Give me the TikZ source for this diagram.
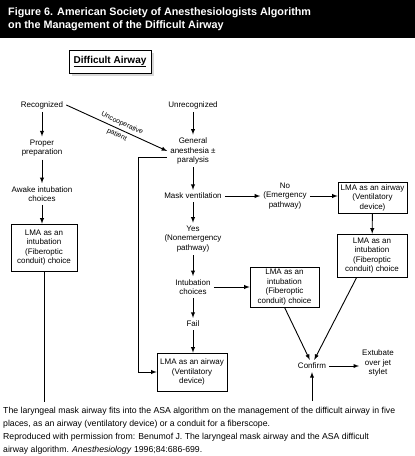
\documentclass[tikz,border=0pt]{standalone}
\usepackage{fontspec}
\setmainfont{Liberation Sans}
\usetikzlibrary{shadows}
\newcommand{\lmaintubation}{LMA as an\\intubation\\(Fiberoptic\\conduit) choice}
\newcommand{\lmaairway}{LMA as an airway\\(Ventilatory\\device)}
\begin{document}
\begin{tikzpicture}[x=1pt,y=-1pt,>=latex,
	txt/.style={align=center,font=\fontsize{8}{9.5}\selectfont,inner sep=3pt},
	lmabox/.style={txt,draw,line width=.6pt,inner sep=2pt},
	flow/.style={->,line width=.9pt}]
	\useasboundingbox (0,0) rectangle (415,456);
	\fill[black] (0,0) rectangle (415,38);%title band
	\node[anchor=north west,align=left,inner sep=0pt,text=white,font=\fontsize{10.8}{12.7}\selectfont\bfseries] (title) at (8,7.5) {Figure 6. American Society of Anesthesiologists Algorithm\\on the Management of the Difficult Airway};
	\node[draw,fill=white,line width=.6pt,minimum width=82pt,minimum height=23pt,drop shadow={shadow xshift=3pt,shadow yshift=-3pt,fill=black!30},font=\fontsize{10}{12}\selectfont\bfseries] (diff) at (110,61.5) {\underline{Difficult Airway}};
	% left column
	\node[txt] (rec) at (42,105) {Recognized};
	\node[txt] (prep) at (42,148) {Proper\\preparation};
	\node[txt] (awake) at (42,194) {Awake intubation\\choices};
	\node[lmabox,minimum width=66pt,minimum height=47pt] (lmaL) at (44,247.5) {\lmaintubation};
	% middle column
	\node[txt] (unrec) at (193,105) {Unrecognized};
	\node[txt] (gen) at (193,151) {General\\anesthesia ±\\paralysis};
	\node[txt] (mask) at (193,196) {Mask ventilation};
	\node[txt] (yes) at (193,239) {Yes\\(Nonemergency\\pathway)};
	\node[txt] (intub) at (193,287) {Intubation\\choices};
	\node[txt] (fail) at (193,324) {Fail};
	\node[lmabox,minimum width=70pt,minimum height=38pt] (lmaD) at (192,372) {\lmaairway};
	% right part
	\node[txt] (no) at (285,196) {No\\(Emergency\\pathway)};
	\node[lmabox,minimum width=69pt,minimum height=31pt] (lmaA) at (372.5,197.5) {\lmaairway};
	\node[lmabox,minimum width=70pt,minimum height=43pt] (lmaB) at (372,255.5) {\lmaintubation};
	\node[lmabox,minimum width=69pt,minimum height=40pt] (lmaC) at (284.5,287) {\lmaintubation};
	\node[txt] (conf) at (312,366) {Confirm};
	\node[txt] (ext) at (378,363) {Extubate\\over jet\\stylet};
	\coordinate (bend) at (138,157);
	\coordinate (footL) at (44,402);
	\coordinate (footC) at (312,401);
	% connectors
	\draw[flow] (rec) -- (prep);
	\draw[flow] (prep) -- (awake);
	\draw[flow] (awake) -- (awake |- lmaL.north);
	\draw[line width=.9pt] (lmaL) -- (footL);
	\draw[flow] (rec.east) -- node[sloped,txt,xshift=3pt,font=\fontsize{7}{12.5}\selectfont] {Uncooperative\\patient} (gen.west);
	\draw[flow] (unrec) -- (gen);
	\draw[flow] (gen.west |- bend) -- (bend) |- (lmaD.west);
	\draw[flow] (gen) -- (mask);
	\draw[flow] (mask) -- (yes);
	\draw[flow] (yes) -- (intub);
	\draw[flow] (intub) -- (fail);
	\draw[flow] (fail) -- (fail |- lmaD.north);
	\draw[flow] (mask) -- (no);
	\draw[flow] (no) -- (no -| lmaA.west);
	\draw[flow] (lmaA) -- (lmaB);
	\draw[flow] (intub) -- (intub -| lmaC.west);
	\draw[flow] (lmaC.south) -- (conf.110);
	\draw[flow] (lmaB.235) -- (conf.70);
	\draw[flow] (conf) -- (conf -| ext.west);
	\draw[flow] (footC) -- (conf);
	% caption
	\node[anchor=north west,align=left,inner sep=0pt,font=\fontsize{8.7}{13}\selectfont] (capA) at (3,407) {The laryngeal mask airway fits into the ASA algorithm on the management of the difficult airway in five\\places, as an airway (ventilatory device) or a conduit for a fiberscope.};
	\node[anchor=north west,align=left,inner sep=0pt,font=\fontsize{8.7}{13}\selectfont] (capB) at (3,433) {Reproduced with permission from: Benumof J. The laryngeal mask airway and the ASA difficult\\airway algorithm. \textit{Anesthesiology} 1996;84:686-699.};
\end{tikzpicture}
\end{document}
